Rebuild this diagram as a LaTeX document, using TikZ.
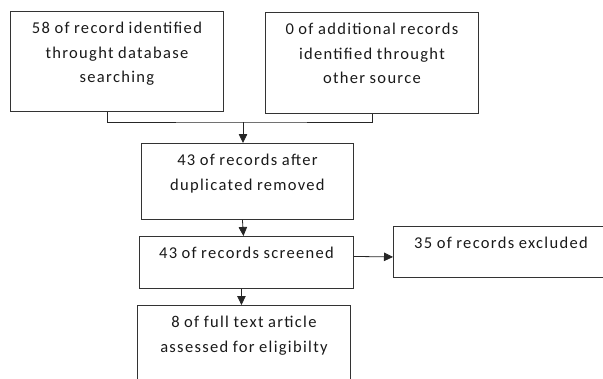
\documentclass[tikz,border=0pt]{standalone}
\usepackage{fontspec}
\setmainfont[LetterSpace=8,WordSpace=0.9]{Carlito}
\usetikzlibrary{arrows.meta}
\newcommand{\boxtext}[3]{\parbox[t][#2][t]{#1}{\centering\vspace*{5pt}\strut#3}}

\begin{document}
\begin{tikzpicture}[x=1pt,y=-1pt,
	box/.style={draw=black!80,line width=0.9pt,anchor=north west,inner sep=0pt,
		font=\fontsize{16.5}{24.5}\selectfont,text=black!90},
	link/.style={line width=0.8pt,draw=black!85},
	arr/.style={link,-{Triangle[length=9pt,width=8.5pt]}}]
	\useasboundingbox (0,0) rectangle (603,378);
	\node[box] (ident) at (10,11) {\boxtext{213pt}{100pt}{58 of record identified\\ throught database\\ searching}};
	\node[box] (other) at (265,12) {\boxtext{213pt}{101pt}{0 of additional records\\ identified throught\\ other source}};
	\node[box] (dup) at (141,143) {\boxtext{212pt}{76pt}{43 of records after\\ duplicated removed}};
	\node[box] (screen) at (139,236) {\boxtext{214pt}{52pt}{43 of records screened}};
	\node[box] (excl) at (393,226) {\boxtext{215pt}{51pt}{35 of records excluded}};
	\node[box] (elig) at (137,305) {\boxtext{213pt}{85pt}{8 of full text article\\ assessed for eligibilty}};
	\coordinate (join) at (243,122);
	\draw[link] ([xshift=-9.5pt]ident.south) |- (join) -| (other.south);
	\draw[arr] (join) -- (join |- dup.north);
	\draw[arr] ([xshift=-5pt]dup.south) -- ([xshift=-4pt]dup.south |- screen.north);
	\draw[arr] ([xshift=-5pt]screen.south) -- ([xshift=-5pt]screen.south |- elig.north);
	\draw[arr] ([yshift=6pt]screen.east) -- ([yshift=-5pt]excl.west);
\end{tikzpicture}
\end{document}
